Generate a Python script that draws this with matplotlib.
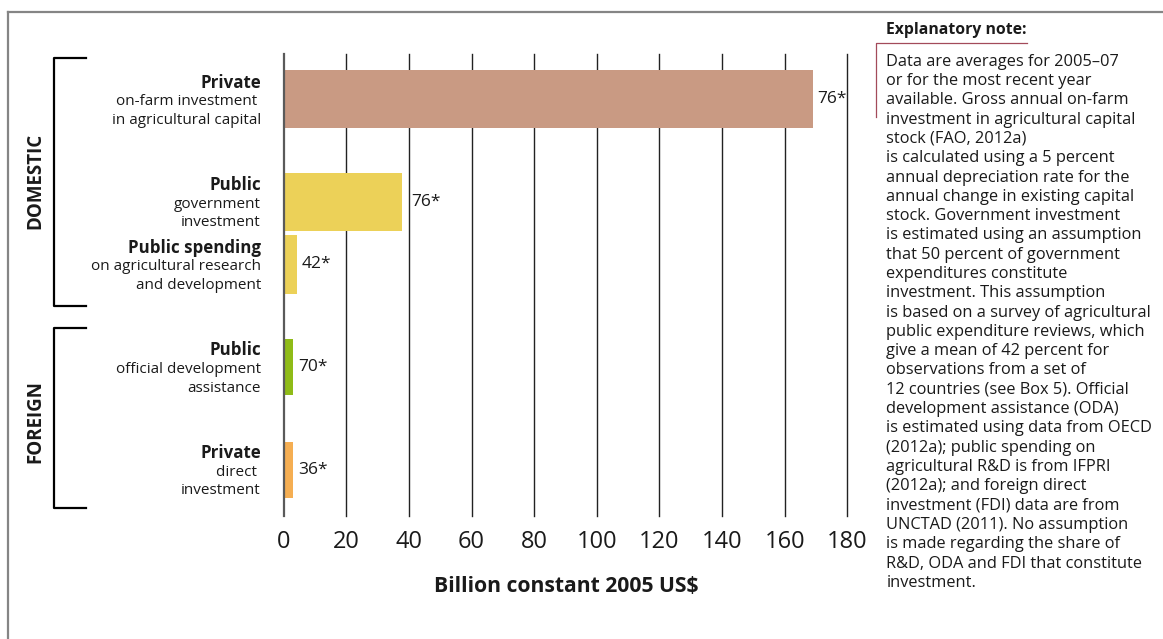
import matplotlib
matplotlib.use("Agg")
import matplotlib.pyplot as plt
from matplotlib.lines import Line2D
from matplotlib import transforms

# ---- data -------------------------------------------------------------
categories = ["Private", "Public", "Public spending", "Public", "Private"]
descriptions = [
    ["on-farm investment ", "in agricultural capital"],
    ["government", "investment"],
    ["on agricultural research", "and development"],
    ["official development", "assistance"],
    ["direct ", "investment"],
]
values = [169.2, 37.7, 4.2, 3.0, 3.0]          # billion constant 2005 US$
value_labels = ["76*", "76*", "42*", "70*", "36*"]
groups = ["DOMESTIC", "FOREIGN"]
x_ticks = [0, 20, 40, 60, 80, 100, 120, 140, 160, 180]
x_title = "Billion constant 2005 US$"
bar_colors = ["#c99a83", "#ecd158", "#ecd158", "#8fbb17", "#f5ae52"]

note_title = "Explanatory note:"
note_lines = [
    "Data are averages for 2005\u201307",
    "or for the most recent year",
    "available. Gross annual on-farm",
    "investment in agricultural capital",
    "stock (FAO, 2012a)",
    "is calculated using a 5 percent",
    "annual depreciation rate for the",
    "annual change in existing capital",
    "stock. Government investment",
    "is estimated using an assumption",
    "that 50 percent of government",
    "expenditures constitute",
    "investment. This assumption",
    "is based on a survey of agricultural",
    "public expenditure reviews, which",
    "give a mean of 42 percent for",
    "observations from a set of",
    "12 countries (see Box 5). Official",
    "development assistance (ODA)",
    "is estimated using data from OECD",
    "(2012a); public spending on",
    "agricultural R&D is from IFPRI",
    "(2012a); and foreign direct",
    "investment (FDI) data are from",
    "UNCTAD (2011). No assumption",
    "is made regarding the share of",
    "R&D, ODA and FDI that constitute",
    "investment.",
]

# ---- layout (pixel rows of the 1163x639 canvas) -----------------------
W, H = 1163, 639
row_centres = [99.5, 202.0, 264.5, 367.0, 470.0]
row_heights = [58, 58, 59, 56, 56]
label_gap = [4, 10, 5, 5, 5]
plot_left, plot_right, plot_top, plot_bottom = 283.7, 847.3, 54.3, 515.7

plt.rcParams["font.family"] = ["Open Sans", "DejaVu Sans"]
TXT = "#1a1a1a"

fig = plt.figure(figsize=(W / 100, H / 100), dpi=100)
fig.patch.set_facecolor("white")


def fx(x):
    return x / W


def fy(y):
    return 1 - y / H


ax = fig.add_axes([fx(plot_left), fy(plot_bottom),
                   (plot_right - plot_left) / W, (plot_bottom - plot_top) / H])
ax.set_xlim(x_ticks[0], x_ticks[-1])
ax.set_ylim(plot_bottom, plot_top)
for s in ax.spines.values():
    s.set_visible(False)

# vertical grid
for t in x_ticks:
    if t == 0:
        ax.axvline(t, color="#5a5a5a", lw=1.6, zorder=3, clip_on=False)
    else:
        ax.axvline(t, color="#222222", lw=1.0, zorder=0, clip_on=False)

ax.barh(row_centres, values, height=row_heights, color=bar_colors,
        align="center", zorder=2)

# value annotations
for yc, v, lab, gap in zip(row_centres, values, value_labels, label_gap):
    ax.annotate(lab, xy=(v, yc), xytext=(gap * 0.72, 0),
                textcoords="offset points", ha="left", va="center",
                fontsize=12.5, color=TXT)

ax.set_xticks(x_ticks)
ax.set_xticklabels([str(t) for t in x_ticks])
ax.set_yticks([])
ax.tick_params(axis="x", length=0, pad=10, labelsize=17, labelcolor=TXT)

fig.text(fx(566), fy(586), x_title, ha="center", va="center",
         fontsize=15.2, fontweight="bold", color=TXT)

# category labels
lab_tr = transforms.blended_transform_factory(fig.transFigure, ax.transData)
for yc, cat, desc in zip(row_centres, categories, descriptions):
    ax.text(fx(261), yc - 16.5, cat, transform=lab_tr, ha="right",
            va="center", fontsize=12.2, fontweight="bold", color=TXT,
            clip_on=False)
    for i, d in enumerate(desc):
        ax.text(fx(261), yc + 2.5 + 18.5 * i, d, transform=lab_tr,
                ha="right", va="center", fontsize=11, color=TXT,
                clip_on=False)

# group brackets
brackets = [(58.3, 305.7), (328.0, 508.3)]
group_centres = [181, 422]
for (top, bot), g, gc in zip(brackets, groups, group_centres):
    fig.add_artist(Line2D([fx(85.7), fx(54.3), fx(54.3), fx(85.7)],
                          [fy(top), fy(top), fy(bot), fy(bot)],
                          transform=fig.transFigure, color="black", lw=1.6))
    fig.text(fx(35.5), fy(gc), g, rotation=90, ha="center", va="center",
             fontsize=13.5, fontweight="bold", color=TXT)

# panel frame
fig.add_artist(Line2D([fx(8), 1.0], [fy(12), fy(12)],
                      transform=fig.transFigure, color="#858585", lw=1.6))
fig.add_artist(Line2D([fx(8), fx(8)], [fy(12), 0.0],
                      transform=fig.transFigure, color="#858585", lw=1.6))

# explanatory note
fig.text(fx(886.5), fy(30.5), note_title, ha="left", va="center",
         fontsize=11.3, fontweight="bold", color=TXT)
fig.add_artist(Line2D([fx(1026.7), fx(875.5), fx(875.5)],
                      [fy(42.7), fy(42.7), fy(117.3)],
                      transform=fig.transFigure, color="#a34a5a", lw=0.9))
for i, line in enumerate(note_lines):
    fig.text(fx(886.5), fy(61.7 + 19.3 * i), line, ha="left", va="center",
             fontsize=11.8, color=TXT)

fig.savefig("out.png", dpi=100, facecolor="white")
